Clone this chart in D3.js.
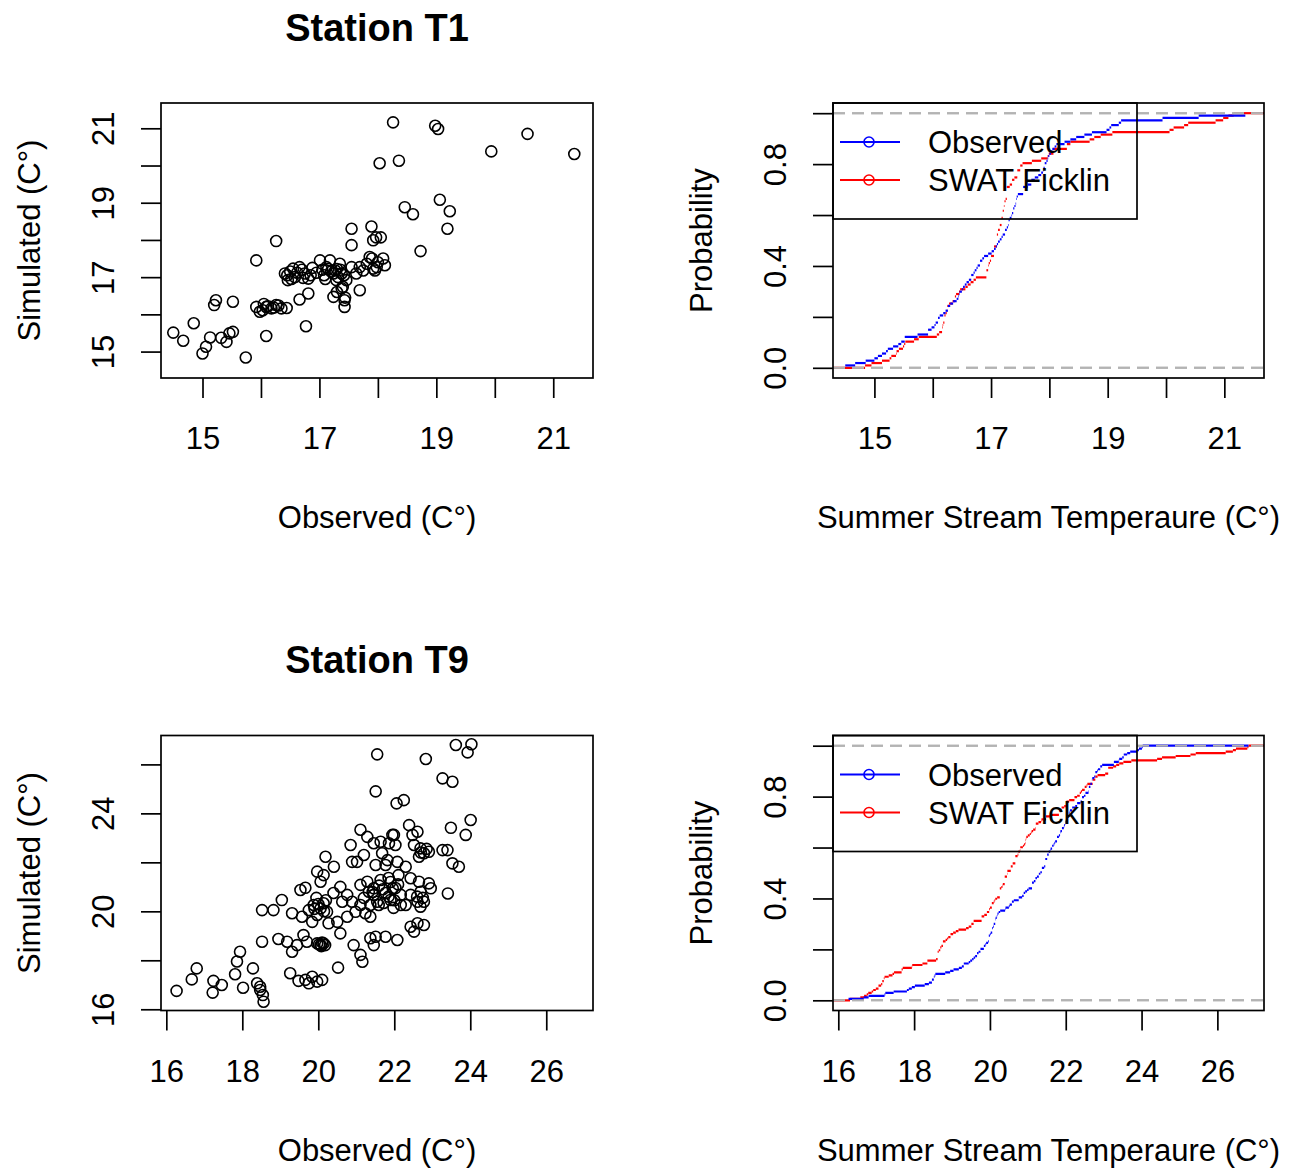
<!DOCTYPE html>
<html>
<head>
<meta charset="utf-8">
<script src="https://cdn.jsdelivr.net/npm/d3@7"></script>
<style>
  body { margin: 0; background: #fff; }
  svg text { font-family: "Liberation Sans", Arial, sans-serif; fill: #000; }
</style>
</head>
<body>
<div id="chart"></div>
<script>
// Station T1: paired observed / simulated summer temperatures
const t1Observed = [14.50,14.67,14.85,15.00,15.06,15.13,15.23,15.20,15.52,15.32,
  15.41,15.46,15.52,15.74,15.92,16.26,15.92,15.98,16.09,16.18,
  16.26,16.35,16.03,16.44,16.09,16.41,16.46,16.55,16.66,16.75,
  16.81,16.66,16.81,16.77,17.01,17.12,17.18,17.24,17.29,17.35,
  17.38,17.40,17.46,17.55,17.63,17.69,17.75,17.81,17.86,17.92,
  17.98,17.24,17.43,17.43,17.55,17.55,17.89,17.92,17.69,18.03,
  18.26,18.98,19.03,20.56,19.94,21.36,18.36,18.46,18.60,19.06,
  19.23,19.19,18.73,17.97,18.05,17.90,18.00,18.09,17.95,18.12,
  16.45,16.50,16.58,16.62,16.70,16.72,16.52,16.85,17.05,17.08,
  17.15,17.20,17.27,17.32,17.36,17.42,17.10,17.30,16.12,16.22,
  16.30,16.05,17.30,17.38,17.44,16.95,16.88];
const t1Simulated = [15.51,15.29,15.76,14.95,15.13,15.38,16.38,16.25,16.34,15.37,
  15.26,15.49,15.53,14.84,17.45,17.97,16.20,16.07,16.20,16.16,
  16.25,16.16,16.11,16.17,15.42,17.10,16.92,17.23,17.27,17.10,
  16.96,16.40,16.56,15.68,17.45,17.27,17.45,17.10,16.92,17.36,
  17.10,16.74,16.92,17.27,17.10,17.27,17.18,17.36,17.54,17.23,
  17.27,16.47,16.38,16.20,18.30,17.86,18.36,17.99,16.65,20.06,
  21.16,21.07,20.98,20.85,20.38,20.31,20.13,18.88,18.69,19.08,
  18.77,18.30,17.70,18.07,18.07,17.50,17.40,17.50,17.18,17.32,
  17.05,17.15,17.00,17.12,17.20,16.98,16.95,17.05,17.20,17.05,
  17.22,17.15,17.18,17.00,17.20,17.05,16.95,17.22,16.22,16.18,
  16.24,16.28,16.60,16.70,16.45,17.12,17.25];

// Station T9
const t9Observed = [16.27,16.67,16.80,17.22,17.24,17.46,17.81,17.86,17.94,18.02,
  18.28,18.39,18.47,18.54,18.56,18.47,18.52,18.82,19.04,18.52,
  18.95,19.26,19.48,19.66,19.84,19.97,20.10,19.75,20.52,19.31,
  19.53,19.66,19.18,19.31,19.44,19.57,19.75,19.88,19.97,20.06,
  20.14,20.23,19.84,19.61,19.70,19.97,20.06,20.14,20.02,20.10,
  20.18,19.97,20.14,20.19,20.41,20.27,20.50,20.58,20.58,20.76,
  20.89,20.63,20.85,21.11,21.29,20.89,21.02,21.20,20.76,20.98,
  21.11,21.24,21.33,21.46,21.11,21.29,21.46,21.55,20.93,21.11,
  21.16,21.37,20.06,
  21.55,22.83,23.62,23.93,24.03,23.27,23.53,21.51,22.06,22.25,23.49,24.01,23.88,
  22.39,22.48,22.61,22.52,22.69,22.78,22.91,22.65,
  21.99,21.86,22.03,22.08,22.30,21.68,
  23.27,23.40,23.53,23.70,23.41,
  22.43,22.65,22.91,22.96,22.69,22.43,22.61,22.78,22.69,
  21.64,21.77,21.90,22.03,22.17,22.30,21.85,21.98,21.72,22.11,21.51,21.43,21.59,21.77,22.17,21.96,
  21.46,21.64,21.95,21.82,
  22.43,22.61,22.78,22.52,
  21.51,21.77,22.08,21.46,
  21.37,21.37,21.46,
  19.90,20.00,20.15,20.20,19.95,20.08,21.70,21.85,21.60,22.00,22.10,21.90,22.70,22.85,22.60,22.75,21.20,20.40];
const t9Simulated = [16.75,17.22,17.67,16.68,17.16,16.99,17.43,17.95,18.35,16.88,
  17.67,17.06,16.79,16.58,16.31,16.92,20.05,20.05,20.46,18.76,
  18.87,17.47,17.16,17.20,17.33,17.13,17.20,17.06,17.70,19.92,
  20.87,20.96,18.76,18.35,18.62,19.78,20.05,20.26,19.85,20.12,
  20.33,19.98,19.57,19.03,18.76,18.69,18.62,18.69,18.65,18.72,
  18.62,21.62,21.48,22.23,21.82,19.51,19.57,19.10,21.00,20.67,
  20.39,20.39,22.71,23.33,23.04,22.02,22.02,22.30,19.78,19.98,
  20.26,19.92,20.80,20.67,21.08,21.21,20.94,20.39,18.62,18.22,
  17.94,18.90,21.21,
  26.41,26.22,26.79,26.49,26.82,25.43,25.29,24.90,24.41,24.54,23.41,23.73,23.12,
  23.52,23.12,23.25,22.71,22.57,22.37,22.43,22.23,
  23.12,22.78,22.71,22.02,21.82,22.37,
  22.50,22.50,21.96,21.82,20.73,
  21.35,21.21,21.14,20.94,20.80,20.67,20.39,20.39,20.19,
  21.28,20.75,20.46,20.95,20.67,20.26,21.36,20.14,20.34,21.48,21.89,20.79,20.26,21.89,20.26,20.93,
  22.78,22.84,23.12,22.09,
  19.37,19.51,19.44,19.17,
  18.96,18.96,18.83,18.62,
  19.78,20.26,20.67,
  20.10,20.30,20.00,20.45,20.55,18.58,20.90,20.60,21.05,20.45,21.10,21.20,22.40,22.55,20.60,20.55,20.55,20.75];

// ticks
const t1Ticks = [15, 16, 17, 18, 19, 20, 21];
const t1TickLabels = [15, 17, 19, 21];
const t9Ticks = [16, 18, 20, 22, 24, 26];
const t9XTickLabels = [16, 18, 20, 22, 24, 26];
const t9YTickLabels = [16, 20, 24];
const probTicks = [0, 0.2, 0.4, 0.6, 0.8, 1];
const probTickLabels = [0, 0.4, 0.8];

const legendNames = ["Observed", "SWAT Ficklin"];
const seriesColors = ["#0000ff", "#ff0000"];

const stations = [
  { title: "Station T1", observed: t1Observed, simulated: t1Simulated,
    xDomain: [14.29, 21.68], yDomain: [14.29, 21.68],
    xTicks: t1Ticks, xLabels: t1TickLabels, yTicks: t1Ticks, yLabels: t1TickLabels },
  { title: "Station T9", observed: t9Observed, simulated: t9Simulated,
    xDomain: [15.86, 27.23], yDomain: [15.95, 27.18],
    xTicks: t9Ticks, xLabels: t9XTickLabels, yTicks: t9Ticks, yLabels: t9YTickLabels }
];

const W = 1297, H = 1171;
const cols = [{ x0: 161, x1: 593 }, { x0: 833, x1: 1264 }];
const rows = [{ y0: 103, y1: 378 }, { y0: 735.5, y1: 1010.5 }];
const FONT = 31;

const svg = d3.select("#chart").append("svg")
  .attr("width", W).attr("height", H)
  .style("display", "block");

function styleAxis(g) {
  g.attr("font-size", FONT).attr("font-family", "Liberation Sans, Arial, sans-serif");
  g.select(".domain").remove();
  g.selectAll(".tick line").attr("stroke", "#000").attr("stroke-width", 1.7);
  g.selectAll(".tick text").attr("fill", "#000");
}

function bottomAxis(parent, x, box, ticks, labels, fmt) {
  const g = parent.append("g").attr("transform", `translate(0,${box.y1})`);
  g.call(d3.axisBottom(x).tickValues(ticks).tickSize(20)
      .tickFormat((d) => (labels.includes(d) ? fmt(d) : "")))
    .call(styleAxis);
  g.selectAll(".tick text").attr("y", 60).attr("dy", "0.36em");
}

function leftAxis(parent, y, box, ticks, labels, fmt) {
  const g = parent.append("g").attr("transform", `translate(${box.x0},0)`);
  g.call(d3.axisLeft(y).tickValues(ticks).tickSize(20)
      .tickFormat((d) => (labels.includes(d) ? fmt(d) : "")))
    .call(styleAxis);
  g.selectAll(".tick text")
    .attr("x", 0)
    .attr("dy", "0.36em")
    .attr("text-anchor", "middle")
    .attr("transform", "translate(-58,0) rotate(-90)");
}

function frame(parent, box) {
  parent.append("rect")
    .attr("x", box.x0).attr("y", box.y0)
    .attr("width", box.x1 - box.x0).attr("height", box.y1 - box.y0)
    .attr("fill", "none").attr("stroke", "#000").attr("stroke-width", 1.7);
}

function axisTitles(parent, box, xText, yText) {
  parent.append("text")
    .attr("x", (box.x0 + box.x1) / 2).attr("y", box.y1 + 139)
    .attr("dy", "0.36em").attr("text-anchor", "middle")
    .attr("font-size", FONT).text(xText);
  parent.append("text")
    .attr("transform", `translate(${box.x0 - 132},${(box.y0 + box.y1) / 2}) rotate(-90)`)
    .attr("dy", "0.36em").attr("text-anchor", "middle")
    .attr("font-size", FONT).text(yText);
}

// step segments of an empirical cdf, no verticals (like plot.ecdf)
function ecdfSegments(values, left, right) {
  const sorted = values.slice().sort(d3.ascending);
  const knots = Array.from(new Set(sorted));
  const n = sorted.length;
  const segs = [{ x0: left, x1: knots[0], p: 0 }];
  knots.forEach((k, i) => {
    segs.push({
      x0: k,
      x1: i < knots.length - 1 ? knots[i + 1] : right,
      p: d3.bisectRight(sorted, k) / n
    });
  });
  return segs;
}

stations.forEach((st, r) => {
  const row = rows[r];

  // ---- scatter ----
  const box = { x0: cols[0].x0, x1: cols[0].x1, y0: row.y0, y1: row.y1 };
  const x = d3.scaleLinear().domain(st.xDomain).range([box.x0, box.x1]);
  const y = d3.scaleLinear().domain(st.yDomain).range([box.y1, box.y0]);
  const g = svg.append("g");

  g.append("g").selectAll("circle")
    .data(d3.zip(st.observed, st.simulated))
    .join("circle")
    .attr("cx", (d) => x(d[0]))
    .attr("cy", (d) => y(d[1]))
    .attr("r", 5.5)
    .attr("fill", "none")
    .attr("stroke", "#000")
    .attr("stroke-width", 1.6);

  frame(g, box);
  bottomAxis(g, x, box, st.xTicks, st.xLabels, d3.format("d"));
  leftAxis(g, y, box, st.yTicks, st.yLabels, d3.format("d"));
  axisTitles(g, box, "Observed (C\u00b0)", "Simulated (C\u00b0)");

  g.append("text")
    .attr("x", (box.x0 + box.x1) / 2).attr("y", box.y0 - 76)
    .attr("dy", "0.36em").attr("text-anchor", "middle")
    .attr("font-size", 38).attr("font-weight", "bold")
    .text(st.title);

  // ---- ecdf ----
  const eb = { x0: cols[1].x0, x1: cols[1].x1, y0: row.y0, y1: row.y1 };
  const ex = d3.scaleLinear().domain(st.xDomain).range([eb.x0, eb.x1]);
  const ey = d3.scaleLinear().domain([-0.04, 1.04]).range([eb.y1, eb.y0]);
  const eg = svg.append("g");
  const clipId = "clip" + r;
  eg.append("clipPath").attr("id", clipId)
    .append("rect").attr("x", eb.x0).attr("y", eb.y0)
    .attr("width", eb.x1 - eb.x0).attr("height", eb.y1 - eb.y0);
  const plot = eg.append("g").attr("clip-path", `url(#${clipId})`);

  const allValues = st.observed.concat(st.simulated);
  const [lo, hi] = d3.extent(allValues);

  function drawSteps(values, color, left, right) {
    plot.append("g").selectAll("line")
      .data(ecdfSegments(values, left, right))
      .join("line")
      .attr("x1", (d) => ex(d.x0)).attr("x2", (d) => ex(d.x1))
      .attr("y1", (d) => ey(d.p)).attr("y2", (d) => ey(d.p))
      .attr("stroke", color).attr("stroke-width", 2.2);
  }
  function drawRefLines() {
    plot.append("g").selectAll("line")
      .data([0, 1])
      .join("line")
      .attr("x1", eb.x0).attr("x2", eb.x1)
      .attr("y1", (d) => ey(d)).attr("y2", (d) => ey(d))
      .attr("stroke", "#b3b3b3").attr("stroke-width", 2)
      .attr("stroke-dasharray", "12,7");
  }

  drawSteps(st.simulated, seriesColors[1], st.xDomain[0], st.xDomain[1]);
  drawRefLines();
  drawSteps(st.observed, seriesColors[0], lo, hi);
  drawRefLines();

  frame(eg, eb);
  bottomAxis(eg, ex, eb, st.xTicks, st.xLabels, d3.format("d"));
  leftAxis(eg, ey, eb, probTicks, probTickLabels, d3.format(".1f"));
  axisTitles(eg, eb, "Summer Stream Temperaure (C\u00b0)", "Probability");

  // legend (top left, transparent)
  const lg = eg.append("g");
  lg.append("rect")
    .attr("x", eb.x0).attr("y", eb.y0)
    .attr("width", 304).attr("height", 116)
    .attr("fill", "none").attr("stroke", "#000").attr("stroke-width", 1.7);
  const items = lg.selectAll("g.item")
    .data(legendNames)
    .join("g").attr("class", "item")
    .attr("transform", (d, i) => `translate(${eb.x0},${eb.y0 + 39 + i * 38})`);
  items.append("line")
    .attr("x1", 7).attr("x2", 67)
    .attr("stroke", (d, i) => seriesColors[i]).attr("stroke-width", 2);
  items.append("circle")
    .attr("cx", 36).attr("r", 5)
    .attr("fill", "none")
    .attr("stroke", (d, i) => seriesColors[i]).attr("stroke-width", 1.6);
  items.append("text")
    .attr("x", 95).attr("dy", "0.36em")
    .attr("font-size", FONT).text((d) => d);
});
</script>
</body>
</html>
